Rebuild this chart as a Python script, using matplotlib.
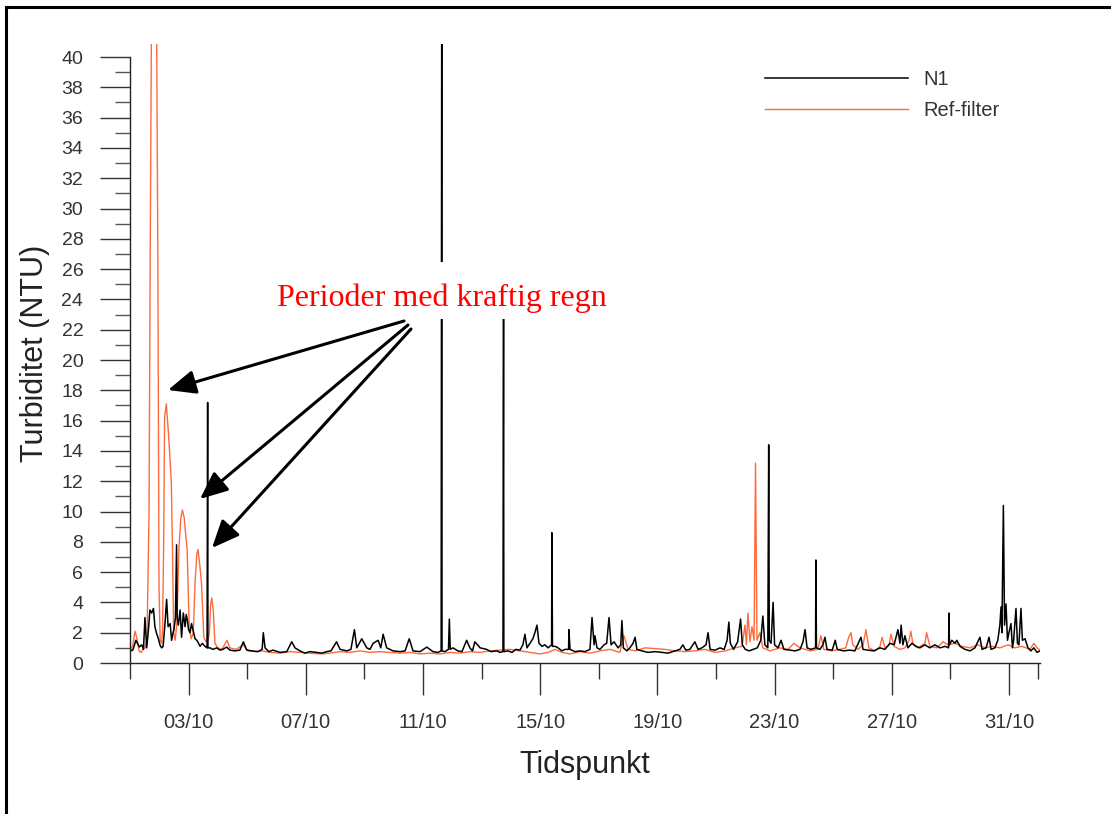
import numpy as np
import pandas as pd
import matplotlib
matplotlib.use("Agg")
import matplotlib.pyplot as plt
import matplotlib.dates as mdates
from matplotlib.lines import Line2D
from matplotlib.patches import Rectangle

plt.rcParams['font.family'] = ['Liberation Sans', 'DejaVu Sans']

# Tid som dag i oktober (1.0 = 01/10 kl 00:00), turbiditet i NTU
n1_dag = [1.03, 1.10, 1.20, 1.32, 1.40, 1.46, 1.51, 1.57, 1.63, 1.68, 1.74, 1.80, 1.85, 1.90, 1.97,
          2.02, 2.08, 2.13, 2.19, 2.25, 2.30, 2.37, 2.42, 2.47, 2.50, 2.55, 2.59, 2.61, 2.65, 2.71,
          2.76, 2.82, 2.88, 2.92, 2.96, 3.00, 3.05, 3.10, 3.16, 3.22, 3.28, 3.34, 3.39, 3.47, 3.56,
          3.63, 3.65, 3.66, 3.73, 3.83, 3.96, 4.07, 4.17, 4.30, 4.41, 4.58, 4.75, 4.87, 4.98, 5.16,
          5.37, 5.51, 5.55, 5.61, 5.74, 5.88, 6.12, 6.35, 6.52, 6.63, 6.80, 6.97, 7.14, 7.37, 7.55,
          7.71, 7.86, 8.05, 8.17, 8.40, 8.54, 8.66, 8.74, 8.91, 9.08, 9.19, 9.30, 9.47, 9.56, 9.64,
          9.76, 9.98, 10.22, 10.39, 10.53, 10.66, 10.90, 11.13, 11.34, 11.51, 11.62, 11.64, 11.65,
          11.75, 11.87, 11.90, 11.93, 12.02, 12.19, 12.33, 12.49, 12.60, 12.69, 12.77, 12.95, 13.17,
          13.32, 13.52, 13.63, 13.73, 13.75, 13.76, 13.90, 14.04, 14.17, 14.31, 14.41, 14.48, 14.55,
          14.65, 14.75, 14.82, 14.89, 14.96, 15.06, 15.16, 15.27, 15.39, 15.40, 15.42, 15.51, 15.61,
          15.74, 15.85, 15.97, 15.98, 16.02, 16.19, 16.36, 16.53, 16.70, 16.77, 16.84, 16.87, 16.94,
          17.04, 17.18, 17.27, 17.35, 17.42, 17.52, 17.66, 17.75, 17.79, 17.84, 17.96, 18.06, 18.17,
          18.24, 18.30, 18.47, 18.68, 18.92, 19.16, 19.36, 19.60, 19.77, 19.87, 19.97, 20.11, 20.28,
          20.39, 20.52, 20.66, 20.73, 20.80, 20.97, 21.14, 21.28, 21.38, 21.44, 21.49, 21.60, 21.74,
          21.84, 21.90, 22.00, 22.13, 22.27, 22.41, 22.53, 22.60, 22.67, 22.77, 22.80, 22.82, 22.88,
          22.95, 23.00, 23.12, 23.22, 23.32, 23.53, 23.70, 23.87, 23.97, 24.04, 24.11, 24.24, 24.40,
          24.41, 24.43, 24.55, 24.65, 24.72, 24.79, 24.97, 25.07, 25.14, 25.35, 25.57, 25.74, 25.95,
          26.02, 26.19, 26.39, 26.60, 26.77, 26.94, 27.08, 27.21, 27.28, 27.32, 27.38, 27.45, 27.55,
          27.69, 27.82, 27.96, 28.13, 28.30, 28.47, 28.65, 28.82, 28.94, 28.95, 28.97, 29.05, 29.16,
          29.22, 29.33, 29.50, 29.67, 29.84, 30.01, 30.08, 30.22, 30.32, 30.39, 30.52, 30.62, 30.69,
          30.73, 30.76, 30.81, 30.85, 30.90, 30.95, 31.00, 31.07, 31.12, 31.16, 31.24, 31.29, 31.34,
          31.41, 31.46, 31.55, 31.65, 31.75, 31.85, 31.96, 32.06]
n1_ntu = [0.8, 0.86, 1.5, 1.06, 1.2, 0.9, 3.0, 1.0, 2.2, 3.5, 3.3, 3.6, 2.4, 2.0, 1.6,
          1.2, 1.0, 1.1, 2.5, 4.2, 2.4, 2.6, 1.5, 2.0, 2.2, 3.0, 7.8, 3.0, 2.5, 3.5,
          1.7, 3.3, 2.4, 3.2, 2.8, 2.2, 2.0, 2.6, 2.1, 1.6, 1.5, 1.3, 1.1, 1.3, 1.1,
          1.0, 17.2, 1.0, 1.0, 0.9, 1.0, 0.85, 0.9, 1.05, 0.85, 0.8, 0.85, 1.4, 0.86, 0.8,
          0.75, 0.9, 2.0, 1.0, 0.75, 0.85, 0.7, 0.75, 1.4, 1.0, 0.8, 0.65, 0.75, 0.7, 0.65,
          0.75, 0.8, 1.4, 0.9, 0.8, 0.9, 2.2, 1.0, 1.6, 1.0, 0.9, 1.3, 1.5, 1.0, 1.9,
          1.0, 0.8, 0.75, 0.8, 1.6, 0.8, 0.75, 1.05, 0.75, 0.7, 0.8, 45.0, 0.8,
          0.75, 0.9, 2.9, 0.9, 1.0, 0.8, 0.75, 1.5, 1.0, 0.8, 1.4, 1.0, 0.9,
          0.75, 0.8, 0.7, 0.75, 24.0, 0.75, 0.8, 0.7, 0.9, 0.85, 1.2, 1.9, 1.0,
          1.3, 1.6, 2.0, 2.5, 1.3, 1.1, 1.2, 1.0, 1.2, 8.6, 1.1, 1.1, 1.0,
          0.8, 0.9, 0.9, 2.2, 0.9, 0.75, 0.8, 0.75, 0.9, 3.0, 1.2, 1.8, 1.0,
          0.9, 1.2, 1.3, 3.0, 1.2, 1.4, 1.0, 1.2, 2.8, 1.0, 0.8, 1.0, 1.3,
          1.7, 0.9, 0.8, 0.7, 0.75, 0.7, 0.65, 0.8, 0.9, 1.2, 0.85, 0.9, 1.4,
          0.9, 1.0, 1.2, 2.0, 0.9, 0.85, 1.0, 0.9, 1.5, 2.7, 1.3, 0.9, 1.4,
          2.9, 1.2, 0.9, 0.8, 0.9, 1.0, 1.5, 3.1, 1.2, 1.0, 14.4, 1.5, 1.3,
          4.0, 1.2, 1.0, 1.5, 0.9, 0.85, 0.8, 0.9, 1.4, 2.2, 1.0, 0.9, 1.0,
          6.8, 1.0, 0.9, 1.2, 1.7, 0.9, 0.85, 1.5, 0.9, 0.8, 0.85, 0.8, 1.7,
          0.9, 0.85, 0.8, 1.0, 0.9, 1.3, 1.2, 2.2, 1.3, 2.5, 1.2, 1.8, 1.0,
          1.3, 1.1, 1.0, 1.2, 1.0, 1.2, 1.0, 1.1, 1.0, 3.3, 1.2, 1.5, 1.3,
          1.5, 1.1, 0.9, 0.8, 1.0, 1.7, 0.9, 1.0, 1.7, 0.9, 1.0, 1.5, 2.5,
          3.7, 2.0, 10.4, 2.5, 3.9, 1.5, 2.0, 2.6, 1.0, 1.5, 3.6, 1.3, 1.2,
          3.6, 1.5, 1.6, 1.0, 0.8, 1.0, 0.7, 0.8]

ref_dag = [1.03, 1.10, 1.17, 1.24, 1.31, 1.38, 1.44, 1.51, 1.58, 1.65, 1.69, 1.74, 1.90, 1.95, 1.99,
           2.03, 2.08, 2.11, 2.15, 2.18, 2.24, 2.30, 2.35, 2.41, 2.45, 2.49, 2.54, 2.60, 2.67, 2.73,
           2.79, 2.85, 2.90, 2.95, 3.02, 3.09, 3.16, 3.22, 3.28, 3.32, 3.38, 3.44, 3.49, 3.52, 3.59,
           3.66, 3.71, 3.75, 3.79, 3.84, 3.90, 4.00, 4.14, 4.31, 4.41, 4.62, 4.86, 5.03, 5.27, 5.51,
           5.78, 6.12, 6.46, 6.80, 7.14, 7.48, 7.83, 8.17, 8.51, 8.85, 9.19, 9.53, 9.87, 10.22, 10.56,
           10.90, 11.24, 11.58, 11.92, 12.26, 12.60, 12.95, 13.29, 13.63, 13.97, 14.31, 14.65, 14.99,
           15.27, 15.51, 15.74, 16.02, 16.36, 16.70, 17.04, 17.38, 17.72, 17.86, 18.00, 18.24, 18.58,
           18.92, 19.26, 19.60, 19.94, 20.28, 20.62, 20.97, 21.31, 21.65, 21.89, 21.99, 22.04, 22.09,
           22.16, 22.23, 22.30, 22.35, 22.40, 22.50, 22.60, 22.84, 23.18, 23.46, 23.66, 23.87, 24.21,
           24.48, 24.58, 24.68, 24.96, 25.23, 25.43, 25.53, 25.61, 25.67, 25.85, 26.02, 26.12, 26.22,
           26.43, 26.60, 26.67, 26.77, 26.91, 26.97, 27.08, 27.28, 27.45, 27.59, 27.65, 27.72, 27.89,
           28.13, 28.19, 28.30, 28.54, 28.75, 28.92, 29.16, 29.40, 29.67, 29.94, 30.18, 30.42, 30.69,
           30.97, 31.20, 31.44, 31.72, 31.85, 31.96, 32.06]
ref_ntu = [0.9, 1.2, 2.1, 1.6, 0.8, 0.7, 0.9, 1.0, 1.5, 10.0, 27.0, 45.0, 45.0, 27.0, 5.0,
           1.5, 1.3, 2.2, 8.0, 16.2, 17.1, 15.5, 14.0, 11.9, 7.5, 2.0, 1.5, 2.6, 7.5, 9.5,
           10.1, 9.6, 8.5, 7.5, 2.4, 1.6, 2.0, 5.3, 7.2, 7.5, 6.5, 5.3, 3.0, 1.7, 1.4,
           1.5, 2.0, 3.8, 4.3, 3.5, 1.3, 1.0, 0.9, 1.5, 1.0, 0.9, 1.2, 0.8, 0.75, 0.8,
           0.7, 0.65, 0.75, 0.7, 0.65, 0.6, 0.65, 0.75, 0.7, 0.8, 0.7, 0.75, 0.7, 0.65, 0.7,
           0.6, 0.65, 0.6, 0.7, 0.65, 0.75, 0.7, 0.8, 0.85, 0.9, 0.8, 0.7, 0.6,
           0.7, 0.9, 0.7, 0.6, 0.75, 0.65, 0.8, 0.9, 0.7, 1.8, 0.9, 0.8, 1.0,
           0.95, 0.9, 0.8, 0.75, 0.8, 0.9, 0.7, 0.8, 1.0, 1.1, 2.5, 1.2, 3.3,
           1.4, 2.4, 1.5, 13.2, 1.5, 2.0, 1.0, 0.8, 1.0, 0.9, 1.3, 1.0, 0.8,
           0.9, 1.8, 0.9, 0.8, 0.9, 1.0, 1.7, 2.0, 1.2, 0.9, 1.2, 2.2, 1.0,
           0.8, 1.1, 1.7, 1.0, 1.2, 1.9, 1.1, 0.9, 1.0, 1.5, 2.1, 1.3, 1.0,
           1.3, 2.0, 1.1, 1.0, 1.4, 1.2, 1.3, 1.1, 1.0, 1.2, 1.0, 1.1, 1.0,
           1.2, 1.0, 1.1, 0.9, 1.3, 1.0, 0.85]

x_ticks_major = [3, 7, 11, 15, 19, 23, 27, 31]
x_ticks_minor = [1, 5, 9, 13, 17, 21, 25, 29]

start = pd.Timestamp('2011-10-01')


def til_tid(dager):
    return start + pd.to_timedelta(np.array(dager) - 1.0, unit='D')


W, H = 1111, 814
fig = plt.figure(figsize=(W / 100, H / 100), dpi=100)
ax = fig.add_axes([130 / W, 1 - 663 / H, 910 / W, 619 / H])

orange = '#ff6a3d'
ref_line, = ax.plot(til_tid(ref_dag), ref_ntu, color=orange, lw=1.0, zorder=2)
n1_line, = ax.plot(til_tid(n1_dag), n1_ntu, color='black', lw=1.1, zorder=2.1)

ax.set_xlim(til_tid([1.0])[0], til_tid([32.06])[0])
ax.set_ylim(0, 40.86)

ax.xaxis.set_major_locator(mdates.DayLocator(bymonthday=x_ticks_major))
ax.xaxis.set_minor_locator(mdates.DayLocator(bymonthday=x_ticks_minor))
ax.xaxis.set_major_formatter(mdates.DateFormatter('%d/%m'))
ax.set_yticks(np.arange(0, 41, 2))
ax.set_yticks(np.arange(1, 40, 2), minor=True)

for s in ['top', 'right']:
    ax.spines[s].set_visible(False)
ax.spines['left'].set_bounds(0, 40)
for s in ['left', 'bottom']:
    ax.spines[s].set_color('#222222')
    ax.spines[s].set_linewidth(1.0)

ax.tick_params(axis='x', which='major', length=23, width=1.0, color='#333333',
               pad=13, labelsize=14.5, labelcolor='#333333')
ax.tick_params(axis='x', which='minor', length=11.5, width=1.0, color='#333333')
ax.tick_params(axis='y', which='major', length=21.6, width=1.0, color='#333333',
               pad=12, labelsize=14, labelcolor='#333333')
ax.tick_params(axis='y', which='minor', length=10.8, width=1.0, color='#555555')

ax.set_ylabel('Turbiditet (NTU)', fontsize=22, color='#222222')
ax.yaxis.set_label_coords(-0.088, 0.5)
ax.set_xlabel('Tidspunkt', fontsize=22, color='#222222')
ax.xaxis.set_label_coords(0.5, -0.14)

ax.legend([n1_line, ref_line], ['N1', 'Ref-filter'], loc='upper left',
          bbox_to_anchor=(0.698, 0.958), frameon=False, fontsize=14.5,
          handlelength=7.1, handletextpad=0.75, labelspacing=0.62,
          borderpad=0, borderaxespad=0, labelcolor='#333333')

# hvit tekstboks med merknad
ax.add_patch(Rectangle((268 / W, 1 - 319 / H), 347 / W, 57 / H, transform=fig.transFigure,
                       facecolor='white', edgecolor='none', zorder=3, clip_on=False))
ax.text(441.5 / W, 1 - 298 / H, 'Perioder med kraftig regn', transform=fig.transFigure,
        ha='center', va='center', fontsize=23, color='red',
        family=['Liberation Serif', 'DejaVu Serif'], zorder=5)

piler = [((404, 321), (168, 390)), ((408, 325), (200, 499)), ((411, 329), (212, 548))]
for (x0, y0), (x1, y1) in piler:
    ax.annotate('', xy=(x1, H - y1), xytext=(x0, H - y0), xycoords='figure pixels',
                textcoords='figure pixels', zorder=4,
                arrowprops=dict(arrowstyle='-|>,head_length=0.6,head_width=0.26',
                                mutation_scale=28, lw=2.2, color='black',
                                shrinkA=0, shrinkB=0))

# ramme rundt figuren
fig.add_artist(Line2D([6.3 / W, 6.3 / W], [0, 1 - 7 / H], transform=fig.transFigure,
                      color='black', lw=2.2))
fig.add_artist(Line2D([6.3 / W, 1], [1 - 7 / H, 1 - 7 / H], transform=fig.transFigure,
                      color='black', lw=2.2))

fig.savefig('out.png', dpi=100)
